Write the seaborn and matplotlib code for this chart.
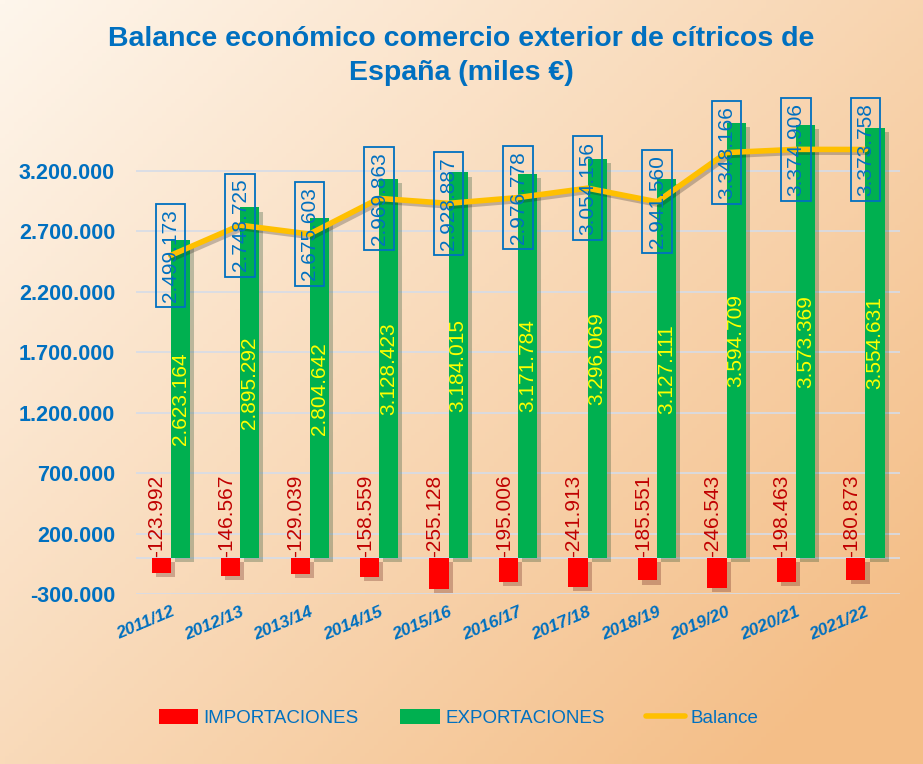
import numpy as np
import pandas as pd
import matplotlib.pyplot as plt
import matplotlib.patheffects as pe
from matplotlib.patches import Patch
from matplotlib.lines import Line2D
import seaborn as sns

# Datos (miles de euros)
campanas = ["2011/12", "2012/13", "2013/14", "2014/15", "2015/16", "2016/17",
            "2017/18", "2018/19", "2019/20", "2020/21", "2021/22"]
importaciones = [-123992, -146567, -129039, -158559, -255128, -195006,
                 -241913, -185551, -246543, -198463, -180873]
exportaciones = [2623164, 2895292, 2804642, 3128423, 3184015, 3171784,
                 3296069, 3127111, 3594709, 3573369, 3554631]
balance = [2499173, 2748725, 2675603, 2969863, 2928887, 2976778,
           3054156, 2941560, 3348166, 3374906, 3373758]

AZUL = "#0070C0"
ROJO = "#FF0000"
VERDE = "#00B050"
AMARILLO = "#FFC000"


def fmt(v):
    return f"{v:,}".replace(",", ".")


df = pd.DataFrame({
    "campana": campanas * 2,
    "valor": importaciones + exportaciones,
    "serie": ["IMPORTACIONES"] * len(campanas) + ["EXPORTACIONES"] * len(campanas),
})

sns.set_theme(style="white")
plt.rcParams["font.family"] = ["Liberation Sans", "DejaVu Sans"]

fig = plt.figure(figsize=(9.23, 7.64), dpi=100)

# Fondo degradado
bg = fig.add_axes([0, 0, 1, 1], zorder=-10)
xx, yy = np.meshgrid(np.linspace(0, 1, 200), np.linspace(0, 1, 200))
t = np.clip(0.6 * xx + 0.5 * yy, 0, 1)
c0 = np.array([254, 246, 236]) / 255
c1 = np.array([244, 190, 135]) / 255
img = c0[None, None, :] * (1 - t[..., None]) + c1[None, None, :] * t[..., None]
bg.imshow(img, aspect="auto", extent=[0, 1, 0, 1], origin="upper")
bg.axis("off")

ax = fig.add_axes([0.1473, 0.2221, 0.828, 0.626])
ax.set_facecolor("none")

sombra = [pe.SimplePatchShadow(offset=(3, -3), alpha=0.25), pe.Normal()]
sns.barplot(data=df, x="campana", y="valor", hue="serie",
            hue_order=["IMPORTACIONES", "EXPORTACIONES"],
            palette={"IMPORTACIONES": ROJO, "EXPORTACIONES": VERDE},
            saturation=1, width=0.55, gap=0, legend=False, ax=ax, zorder=3)
for p in ax.patches:
    p.set_path_effects(sombra)
    p.set_linewidth(0)

x = np.arange(len(campanas))
sns.lineplot(x=x, y=balance, color=AMARILLO, linewidth=4, sort=False, ax=ax, zorder=4,
             path_effects=[pe.SimpleLineShadow(offset=(2, -2), alpha=0.25), pe.Normal()])

# Etiquetas
for i in x:
    ax.text(i - 0.2, 8000, fmt(importaciones[i]), rotation=90, ha="center", va="bottom",
            color="#C00000", fontsize=15, zorder=6)
    ax.text(i + 0.1375, exportaciones[i] / 2, fmt(exportaciones[i]), rotation=90,
            ha="center", va="center", color="#FFFF00", fontsize=15, zorder=6)
    ax.text(i, balance[i], fmt(balance[i]), rotation=90, ha="center", va="center",
            color=AZUL, fontsize=15, zorder=7,
            bbox=dict(boxstyle="square,pad=0.25", fc="none", ec=AZUL, lw=1.3))

ax.set_xlim(-0.5, len(campanas) - 0.5)
ax.set_ylim(-300000, 3650000)
yticks = np.arange(-300000, 3200001, 500000)
ax.set_yticks(yticks)
ax.set_yticklabels([fmt(v) for v in yticks], color=AZUL, fontsize=15.5, fontweight="bold")
ax.set_xticks(x)
ax.set_xticklabels(campanas, rotation=23, ha="right", rotation_mode="anchor",
                   color=AZUL, fontsize=12.5, fontweight="bold", fontstyle="italic")
ax.tick_params(axis="y", length=0, pad=15)
ax.tick_params(axis="x", length=0, pad=7)
for yv in yticks:
    ax.axhline(yv, color="#D5DCE8", lw=1.2, zorder=1)
ax.axhline(0, color="#D5DCE8", lw=1.2, zorder=2)
ax.set_xlabel("")
ax.set_ylabel("")
for s in ax.spines.values():
    s.set_visible(False)

fig.text(0.5, 1 - 56 / 764, "Balance económico comercio exterior de cítricos de\nEspaña (miles €)",
         ha="center", va="center", color=AZUL, fontsize=20.5, fontweight="bold",
         linespacing=1.45)

handles = [Patch(facecolor=ROJO, edgecolor="none"),
           Patch(facecolor=VERDE, edgecolor="none"),
           Line2D([0], [0], color=AMARILLO, lw=4)]
leg = fig.legend(handles, ["IMPORTACIONES", "EXPORTACIONES", "Balance"], ncol=3,
                 loc="center", bbox_to_anchor=(0.497, 1 - 718 / 764), frameon=False,
                 fontsize=13.5, handlelength=2.1, handleheight=0.9, columnspacing=2.2,
                 handletextpad=0.3)
for txt in leg.get_texts():
    txt.set_color(AZUL)

fig.savefig("out.png", dpi=100)
